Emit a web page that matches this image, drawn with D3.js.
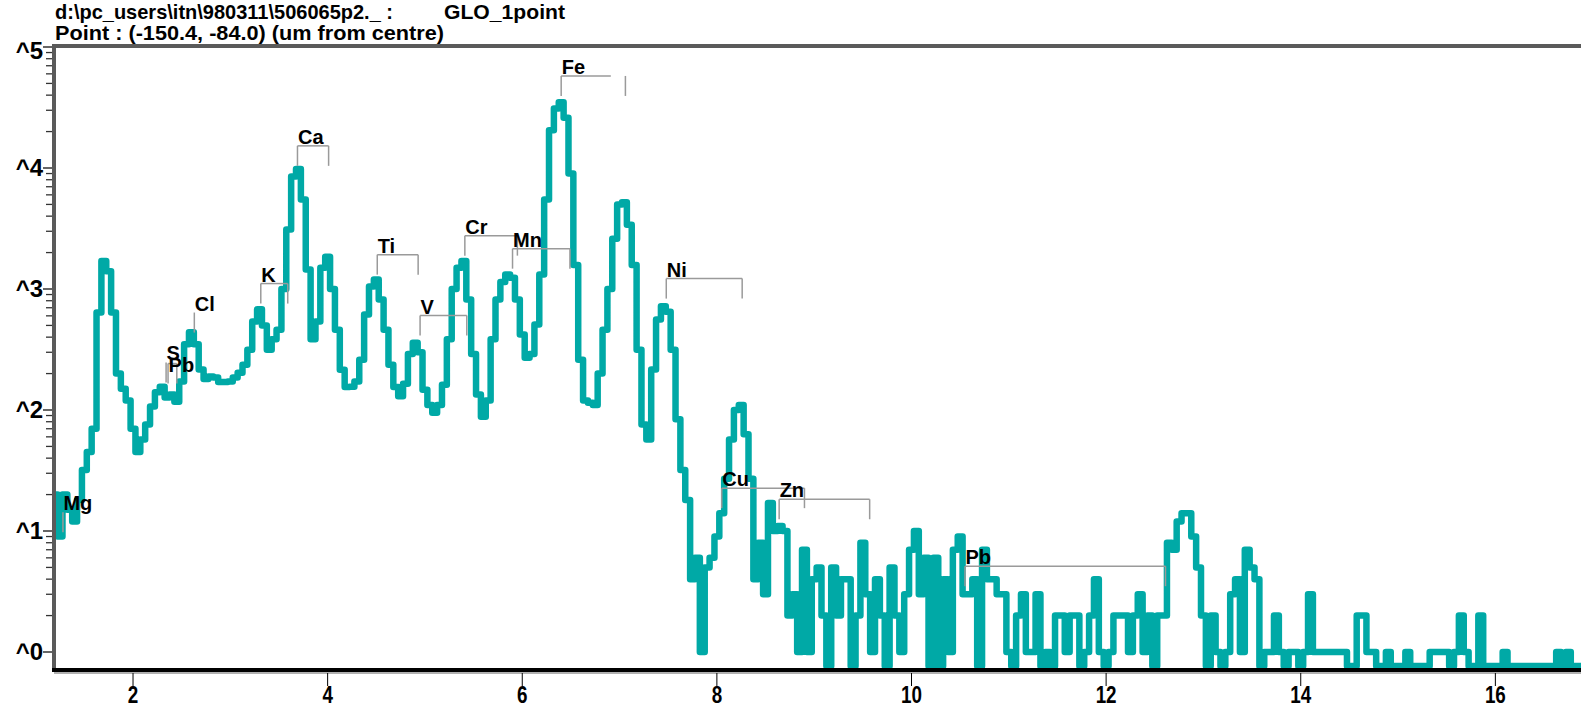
<!DOCTYPE html>
<html><head><meta charset="utf-8">
<script src="https://cdn.jsdelivr.net/npm/d3@7"></script>
<style>
html,body{margin:0;padding:0;background:#fff;}
svg{display:block;}
text{font-family:"Liberation Sans",Arial,sans-serif;font-weight:bold;fill:#000;}
</style></head><body>
<svg id="chart" width="1581" height="710"></svg>
<script>
// ---------- data ----------
const titleFile = "d:\\pc_users\\itn\\980311\\506065p2._ :";
const titleSample = "GLO_1point";
const titlePoint = "Point : (-150.4, -84.0)  (um from centre)";

const xTickValues = [2, 4, 6, 8, 10, 12, 14, 16];
const yDecades = [0, 1, 2, 3, 4, 5];
const yTickLabels = ["^0", "^1", "^2", "^3", "^4", "^5"];

// spectrum: counts per channel, channel centres from 1.20 keV in 0.05 keV steps
const channelStart = 1.20;
const channelWidth = 0.05;
const counts = [
  20, 9, 20, 15, 12, 18, 32, 45, 70, 640, 1700, 1400, 640, 200, 150, 120,
  70, 45, 57, 76, 107, 140, 156, 127, 134, 117, 172, 350, 440, 350, 216, 180, 189, 186, 170, 170,
  172, 186, 203, 237, 315, 540, 680, 500, 315, 385, 460, 1000, 3100, 8500, 9800, 5500, 1450, 385, 540, 1500,
  1850, 1000, 460, 215, 155, 156, 172, 260, 615, 1050, 1200, 820, 460, 237, 155, 130, 165, 290, 360, 300,
  147, 110, 95, 110, 162, 385, 1000, 1500, 1700, 820, 290, 134, 88, 120, 385, 820, 1140, 1320, 1240, 820,
  420, 270, 290, 510, 1320, 5500, 20500, 31000, 35000, 26000, 9000, 1580, 260, 120, 115, 110, 200, 460, 1000, 2600,
  5000, 5200, 3400, 1580, 315, 76, 57, 216, 560, 720, 650, 315, 84, 32, 18, 4, 6, 1, 5, 6,
  9, 14, 27, 57, 100, 110, 63, 27, 4, 8, 3, 17, 10, 11, 10, 2, 3, 1, 7, 1,
  4, 5, 2, 0, 5, 2, 4, 4, 0, 2, 8, 3, 1, 4, 2, 0, 5, 2, 1, 3,
  7, 10, 3, 6, 0, 6, 0, 4, 1, 7, 9, 3, 3, 4, 0, 7, 4, 4, 3, 3,
  1, 0, 2, 3, 1, 1, 3, 0, 1, 0, 2, 2, 1, 2, 2, 0, 1, 2, 4, 1,
  0, 1, 2, 2, 2, 1, 2, 3, 1, 2, 0, 2, 2, 8, 7, 12, 14, 14, 9, 5,
  2, 0, 2, 1, 0, 1, 3, 4, 1, 7, 5, 4, 0, 1, 1, 2, 1, 0, 1, 1,
  0, 1, 3, 1, 1, 1, 1, 1, 1, 1, 0, 0, 2, 2, 1, 1, 0, 0, 1, 0,
  0, 0, 1, 0, 0, 0, 0, 1, 1, 1, 1, 0, 1, 2, 1, 0, 0, 2, 0, 0,
  0, 0, 1, 0, 0, 0, 0, 0, 0, 0, 0, 0, 0, 1, 0, 1, 0, 0, 0
];

// element line markers (keV) and the count level of their bracket
const markerIds    = ["Mg", "S", "PbM", "Cl", "K", "Ca", "Ti", "V", "Cr", "Mn", "Fe", "Ni", "Cu", "Zn", "PbL"];
const markerLabels = ["Mg", "S", "Pb", "Cl", "K", "Ca", "Ti", "V", "Cr", "Mn", "Fe", "Ni", "Cu", "Zn", "Pb"];
const markerE1     = [1.28, 2.34, 2.36, 2.63, 3.313, 3.69, 4.51, 4.95, 5.41, 5.90, 6.40, 7.48, 8.05, 8.64, 10.55];
const markerE2     = [1.28, 2.34, 2.45, 2.63, 3.59, 4.01, 4.93, 5.43, 5.95, 6.49, 7.06, 8.26, 8.90, 9.57, 12.61];
const markerBarEnd = [null, null, null, null, null, null, null, null, null, null, 6.91, null, null, null, null];
const markerLevel  = [14.3, 247, 242, 639, 1109, 15240, 1923, 603, 2760, 2154, 57650, 1219, 22.6, 18.3, 5.12];

// ---------- drawing ----------
(function () {
  const svg = d3.select("#chart");
  const plotLeft = 54, plotRight = 1581, plotTop = 46, axisY = 670;
  const yZero = 666;

  const x = d3.scaleLinear().domain([1.188, 16.88]).range([plotLeft, plotRight]);
  const y = d3.scaleLog().domain([1, 1e5]).range([652, 47]);

  const teal = "#00a9a6";

  svg.append("defs").append("clipPath").attr("id", "plotclip")
    .append("rect").attr("x", plotLeft).attr("y", plotTop)
    .attr("width", plotRight - plotLeft).attr("height", axisY - plotTop + 4);

  const spectrum = counts.map((c, i) => ({ e: channelStart + i * channelWidth, c }));
  const line = d3.line()
    .x(d => x(d.e))
    .y(d => d.c > 0 ? y(d.c) : yZero)
    .curve(d3.curveStep);

  svg.append("g").attr("clip-path", "url(#plotclip)")
    .append("path")
    .datum(spectrum)
    .attr("d", line)
    .attr("fill", "none")
    .attr("stroke", teal)
    .attr("stroke-width", 6.5)
    .attr("stroke-linejoin", "round")
    .attr("stroke-linecap", "round");

  // markers
  const mg = svg.append("g");
  const bracketColor = "#9a9a9a";
  const dropPx = 20;
  markerIds.forEach((id, i) => {
    const yb = y(markerLevel[i]);
    const x1 = x(markerE1[i]);
    const x2 = x(markerE2[i]);
    mg.append("line").attr("x1", x1).attr("x2", x1).attr("y1", yb).attr("y2", yb + dropPx)
      .attr("stroke", bracketColor).attr("stroke-width", 1.5);
    if (markerE2[i] !== markerE1[i]) {
      const xe = markerBarEnd[i] != null ? x(markerBarEnd[i]) : x2;
      mg.append("line").attr("x1", x1).attr("x2", xe).attr("y1", yb).attr("y2", yb)
        .attr("stroke", bracketColor).attr("stroke-width", 1.5);
      mg.append("line").attr("x1", x2).attr("x2", x2).attr("y1", yb).attr("y2", yb + dropPx)
        .attr("stroke", bracketColor).attr("stroke-width", 1.5);
    }
    const dy = id === "PbM" ? 8 : -2;
    mg.append("text").attr("x", x1 + 0.5).attr("y", yb + dy)
      .attr("font-size", 20).text(markerLabels[i]);
  });

  // y axis ticks and labels
  const ya = svg.append("g");
  yDecades.forEach((d, i) => {
    const yy = y(Math.pow(10, d));
    ya.append("line").attr("x1", plotLeft - 11).attr("x2", plotLeft).attr("y1", yy).attr("y2", yy)
      .attr("stroke", "#333").attr("stroke-width", 1.5);
    ya.append("text").attr("x", 43).attr("y", yy + 8 + (d === 5 ? 4 : 0))
      .attr("text-anchor", "end").attr("font-size", 24).text(yTickLabels[i]);
    if (d < 5) {
      for (let m = 2; m <= 9; m++) {
        const ym = y(m * Math.pow(10, d));
        ya.append("line").attr("x1", plotLeft - 8).attr("x2", plotLeft).attr("y1", ym).attr("y2", ym)
          .attr("stroke", "#333").attr("stroke-width", 1.3);
      }
    }
  });

  // frame: left and top
  svg.append("line").attr("x1", plotLeft).attr("x2", plotLeft).attr("y1", plotTop - 2).attr("y2", axisY)
    .attr("stroke", "#5a5a5a").attr("stroke-width", 4);
  svg.append("line").attr("x1", plotLeft - 2).attr("x2", plotRight).attr("y1", plotTop).attr("y2", plotTop)
    .attr("stroke", "#5a5a5a").attr("stroke-width", 4);

  // bottom axis
  svg.append("line").attr("x1", plotLeft - 2).attr("x2", plotRight).attr("y1", axisY).attr("y2", axisY)
    .attr("stroke", "#000").attr("stroke-width", 4);
  svg.append("line").attr("x1", plotLeft).attr("x2", plotRight).attr("y1", axisY + 3).attr("y2", axisY + 3)
    .attr("stroke", "#b0b0b0").attr("stroke-width", 2);

  const xa = svg.append("g");
  xTickValues.forEach(v => {
    const xx = x(v);
    xa.append("line").attr("x1", xx).attr("x2", xx).attr("y1", axisY + 3).attr("y2", axisY + 16)
      .attr("stroke", "#000").attr("stroke-width", 1);
    xa.append("text").attr("transform", `translate(${xx},703) scale(0.82,1)`)
      .attr("text-anchor", "middle").attr("font-size", 23).text(String(v));
  });

  // titles
  svg.append("text").attr("x", 55).attr("y", 19).attr("font-size", 20.5)
    .attr("textLength", 338).attr("lengthAdjust", "spacingAndGlyphs").text(titleFile);
  svg.append("text").attr("x", 444).attr("y", 19).attr("font-size", 20.5)
    .attr("textLength", 121).attr("lengthAdjust", "spacingAndGlyphs").text(titleSample);
  svg.append("text").attr("x", 55).attr("y", 40).attr("font-size", 20.5)
    .attr("textLength", 389).attr("lengthAdjust", "spacingAndGlyphs").text(titlePoint);
})();
</script>
</body></html>
